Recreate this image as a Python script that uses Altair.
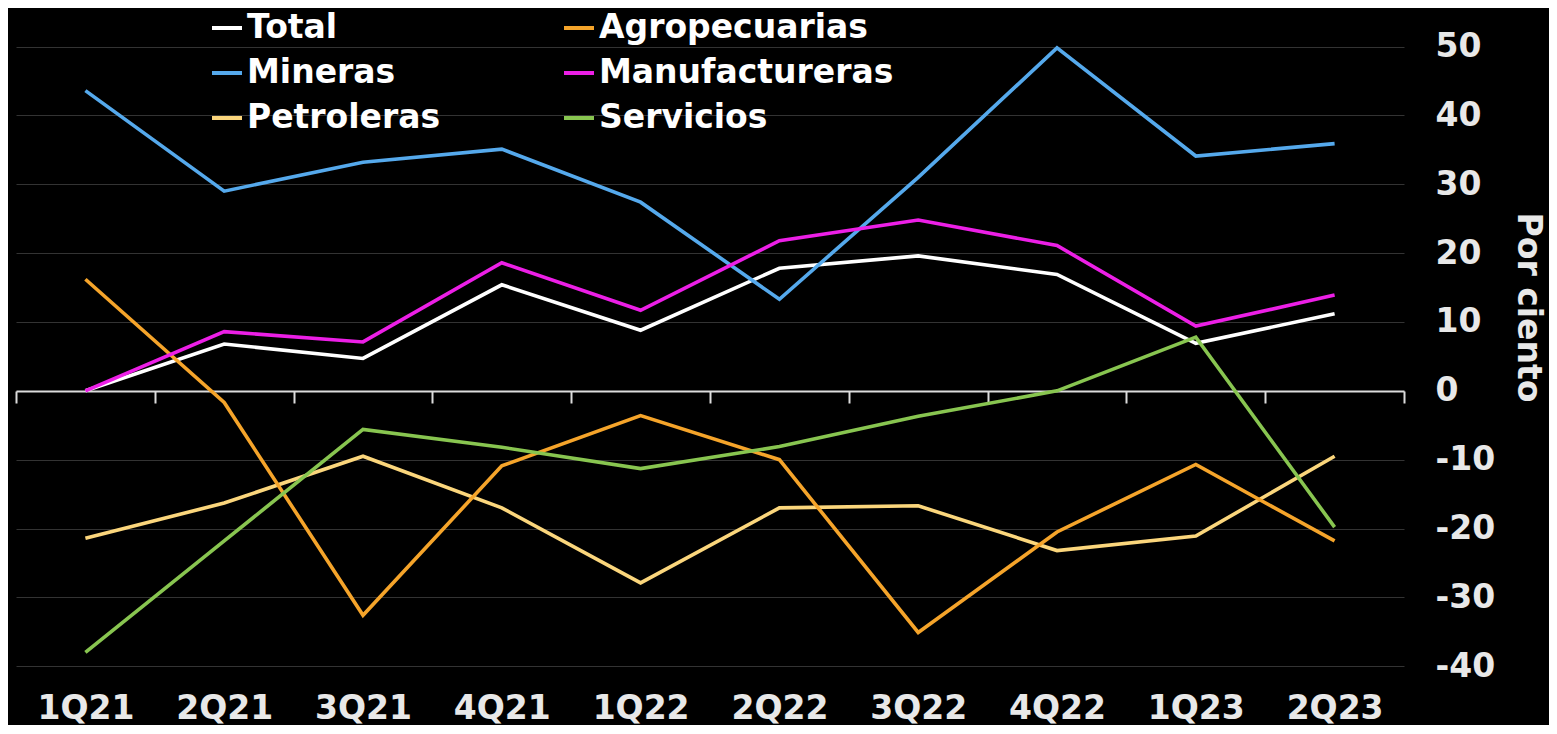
import altair as alt
import pandas as pd

quarters = ["1Q21", "2Q21", "3Q21", "4Q21", "1Q22", "2Q22", "3Q22", "4Q22", "1Q23", "2Q23"]
total = [0.0, 6.8, 4.7, 15.4, 8.8, 17.8, 19.6, 16.9, 6.9, 11.2]
mineras = [43.6, 29.0, 33.2, 35.1, 27.4, 13.3, 31.0, 49.8, 34.1, 35.9]
petroleras = [-21.4, -16.3, -9.5, -17.0, -27.9, -17.0, -16.7, -23.2, -21.1, -9.5]
agropecuarias = [16.2, -1.7, -32.6, -10.9, -3.6, -10.0, -35.1, -20.5, -10.7, -21.8]
manufactureras = [0.0, 8.6, 7.1, 18.6, 11.7, 21.8, 24.8, 21.1, 9.4, 13.9]
servicios = [-38.0, -21.8, -5.6, -8.2, -11.3, -8.1, -3.7, 0.0, 7.8, -19.8]

# legend fills column by column: first column Total/Mineras/Petroleras
series_names = ["Total", "Mineras", "Petroleras", "Agropecuarias", "Manufactureras", "Servicios"]
series_values = [total, mineras, petroleras, agropecuarias, manufactureras, servicios]
series_colors = ["#ffffff", "#55a9ec", "#fbd67c", "#f5a42a", "#ec1fe6", "#88c550"]
y_ticks = [-40, -30, -20, -10, 0, 10, 20, 30, 40, 50]

rows = []
for name, vals in zip(series_names, series_values):
    for q, v in zip(quarters, vals):
        rows.append({"Trimestre": q, "Serie": name, "Valor": v})
df = pd.DataFrame(rows)

FONT = "DejaVu Sans"

chart = alt.Chart(df).mark_line(strokeWidth=3.6).encode(
    x=alt.X(
        "Trimestre:N",
        sort=quarters,
        bandPosition=0.5,
        scale=alt.Scale(type="band", paddingInner=0, paddingOuter=0),
        axis=alt.Axis(
            title=None,
            orient="bottom",
            offset=-289,
            domain=True,
            domainColor="#dcdcdc",
            domainWidth=2,
            ticks=True,
            tickBand="extent",
            tickColor="#dcdcdc",
            tickWidth=2,
            tickSize=12,
            labelPadding=289,
            labelAngle=0,
            labelFont=FONT,
            labelFontSize=33,
            labelFontWeight="bold",
            labelColor="#e8e8e8",
            grid=False,
        ),
    ),
    y=alt.Y(
        "Valor:Q",
        scale=alt.Scale(domain=[-42, 55.6], nice=False, zero=False),
        axis=alt.Axis(
            orient="right",
            values=y_ticks,
            labelExpr="datum.value < 0 ? '-' + abs(datum.value) : '' + datum.value",
            title="Por ciento",
            titleFont=FONT,
            titleFontSize=33,
            titleFontWeight="bold",
            titleColor="#e8e8e8",
            titleAngle=90,
            titleX=123,
            titleY=299,
            titleAlign="center",
            titleBaseline="middle",
            domain=False,
            ticks=False,
            labelPadding=31,
            labelAlign="left",
            labelFont=FONT,
            labelFontSize=33,
            labelFontWeight="bold",
            labelColor="#e8e8e8",
            grid=True,
            gridColor="#333333",
            gridWidth=1,
        ),
    ),
    color=alt.Color(
        "Serie:N",
        sort=series_names,
        scale=alt.Scale(domain=series_names, range=series_colors),
        legend=alt.Legend(
            title=None,
            orient="none",
            legendX=194,
            legendY=3,
            columns=2,
            columnPadding=115,
            rowPadding=11,
            padding=0,
            symbolType="stroke",
            symbolSize=900,
            symbolStrokeWidth=4,
            labelOffset=3,
            labelFont=FONT,
            labelFontSize=33,
            labelFontWeight="bold",
            labelColor="#ffffff",
            labelLimit=0,
        ),
    ),
).properties(
    width=1388,
    height=672,
    padding={"left": 7, "top": 0, "right": 6, "bottom": 0},
    background="#000000",
).configure_view(stroke=None)

chart.save("out.html", embed_options={"renderer": "svg", "actions": False})
